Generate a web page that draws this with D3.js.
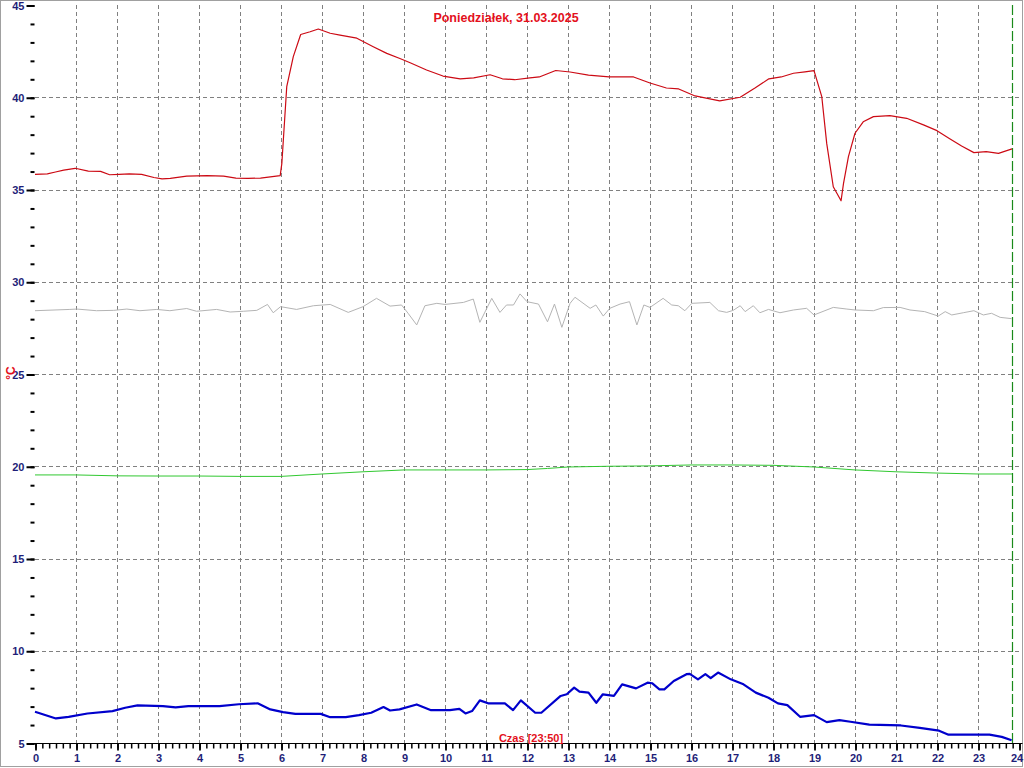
<!DOCTYPE html>
<html><head><meta charset="utf-8">
<script src="https://cdn.jsdelivr.net/npm/d3@7"></script>
<style>
html,body{margin:0;padding:0;background:#fff;}
svg{display:block;font-family:"Liberation Sans",Arial,sans-serif;}
</style></head>
<body>
<svg id="c" width="1024" height="768"></svg>
<script>
const titleText = "Poniedziałek, 31.03.2025";
const xLabelText = "Czas [23:50]";
const yLabelText = "°C";
const xTickLabels = d3.range(0, 25);
const yTickLabels = [5, 10, 15, 20, 25, 30, 35, 40, 45];
const nowHour = 23 + 50 / 60;

const redHours = [0,0.3,0.5,0.7,0.98,1.3,1.6,1.82,2.05,2.3,2.6,2.9,3.1,3.3,3.7,4.2,4.6,4.9,5.2,5.5,5.98,6.02,6.14,6.3,6.48,6.71,6.91,7.2,7.44,7.85,8.25,8.58,8.9,9.15,9.55,9.95,10.37,10.7,11.1,11.4,11.7,12.07,12.3,12.7,13.05,13.5,14.0,14.6,15.0,15.4,15.7,16.1,16.7,17.2,17.56,17.9,18.2,18.5,18.78,19.0,19.19,19.31,19.47,19.66,19.72,19.84,20.0,20.2,20.45,20.85,21.26,21.67,22.0,22.3,22.6,22.9,23.2,23.5,23.83];
const redValues = [35.82,35.85,35.95,36.05,36.15,36.0,35.98,35.8,35.82,35.85,35.82,35.65,35.58,35.6,35.72,35.75,35.72,35.62,35.6,35.62,35.75,36.4,40.57,42.2,43.4,43.55,43.7,43.47,43.37,43.2,42.74,42.38,42.1,41.87,41.48,41.15,41.0,41.05,41.22,41.0,40.95,41.05,41.1,41.45,41.37,41.2,41.1,41.1,40.77,40.5,40.45,40.07,39.8,40.0,40.5,41.0,41.1,41.3,41.38,41.44,40.03,37.5,35.15,34.39,35.33,36.78,38.05,38.67,38.95,39.0,38.86,38.5,38.19,37.77,37.36,37.0,37.05,36.96,37.2];

const grayHours = [0,0.85,1.02,1.5,1.92,2.24,2.56,2.97,3.29,3.7,3.94,4.43,4.76,5.08,5.41,5.67,5.81,5.99,6.38,6.79,7.2,7.64,8.0,8.33,8.66,8.94,9.1,9.31,9.51,9.8,10.0,10.45,10.69,10.85,11.14,11.34,11.5,11.67,11.83,12.0,12.28,12.5,12.67,12.85,13.05,13.17,13.54,13.68,13.86,14.02,14.27,14.5,14.68,14.85,15.0,15.32,15.53,15.69,15.85,16.02,16.46,16.67,16.87,17.03,17.2,17.32,17.52,17.68,17.89,18.17,18.5,18.82,19.0,19.47,19.8,20.0,20.45,20.69,21.1,21.34,21.7,22.03,22.2,22.36,22.64,22.9,23.13,23.33,23.54,23.82];
const grayValues = [28.43,28.5,28.52,28.43,28.45,28.52,28.43,28.5,28.43,28.55,28.4,28.5,28.36,28.4,28.45,28.77,28.32,28.65,28.5,28.7,28.77,28.34,28.65,29.1,28.68,28.74,28.29,27.66,28.7,28.83,28.77,28.88,29.06,27.8,29.1,28.34,28.74,28.74,29.34,28.92,28.79,27.83,28.79,27.53,28.83,29.16,28.56,28.74,28.14,28.56,28.79,28.92,27.66,28.74,28.61,29.1,28.74,28.7,28.43,28.83,28.88,28.43,28.34,28.45,28.7,28.38,28.7,28.32,28.5,28.32,28.47,28.56,28.2,28.61,28.52,28.47,28.43,28.6,28.61,28.47,28.38,28.14,28.38,28.2,28.32,28.43,28.2,28.29,28.07,28.0];

const greenHours = [0,1,2,3,4,5,6,7,8,9,10,11,12,12.5,13,14,15,16,17,18,19,20,21,22,23,23.83];
const greenValues = [19.53,19.53,19.48,19.47,19.47,19.45,19.45,19.58,19.7,19.8,19.8,19.8,19.82,19.88,19.96,20.0,20.02,20.07,20.07,20.05,19.96,19.8,19.7,19.63,19.58,19.58];

const blueHours = [0,0.51,0.82,1.28,1.89,2.2,2.5,3.12,3.43,3.74,4.5,4.97,5.43,5.74,6.05,6.35,6.97,7.2,7.58,7.9,8.2,8.5,8.66,8.89,9.31,9.66,10.12,10.35,10.5,10.66,10.85,11.05,11.46,11.66,11.85,12.2,12.35,12.82,12.97,13.15,13.28,13.5,13.69,13.85,14.12,14.32,14.66,14.94,15.05,15.23,15.35,15.58,15.89,15.97,16.17,16.35,16.48,16.66,16.97,17.28,17.58,17.89,18.12,18.35,18.66,19.0,19.31,19.62,19.89,20.35,21.12,21.58,22.05,22.28,23.28,23.58,23.82];
const blueValues = [6.69,6.33,6.42,6.6,6.73,6.91,7.04,7.0,6.93,7.0,7.0,7.1,7.15,6.82,6.67,6.58,6.58,6.4,6.4,6.51,6.64,6.95,6.76,6.82,7.09,6.78,6.78,6.85,6.6,6.73,7.31,7.15,7.15,6.78,7.31,6.64,6.64,7.55,7.64,8.0,7.78,7.73,7.18,7.64,7.55,8.18,7.96,8.27,8.24,7.91,7.91,8.36,8.73,8.75,8.45,8.73,8.51,8.82,8.45,8.18,7.73,7.45,7.15,7.05,6.42,6.51,6.13,6.24,6.15,6.0,5.95,5.82,5.67,5.45,5.45,5.33,5.15];

const svg = d3.select("#c");
const x = d3.scaleLinear().domain([0, 24]).range([35, 1019]);
const y = d3.scaleLinear().domain([5, 45]).range([743, 5]);
const navy = "#1e1e78";

// outer frame
svg.append("rect").attr("x", 0.5).attr("y", 0.5).attr("width", 1022).attr("height", 766)
  .attr("fill", "none").attr("stroke", "#a0a0a0").attr("stroke-width", 1);

// grid
const grid = svg.append("g").attr("stroke", "#808080").attr("stroke-width", 1).attr("stroke-dasharray", "4,3");
grid.selectAll("line.v").data(xTickLabels.filter(d => d > 0 && d < 24)).join("line")
  .attr("x1", d => Math.round(x(d)) + 0.5).attr("x2", d => Math.round(x(d)) + 0.5)
  .attr("y1", y(45)).attr("y2", y(5));
grid.selectAll("line.h").data(yTickLabels.filter(d => d > 5 && d < 45)).join("line")
  .attr("y1", d => Math.round(y(d)) + 0.5).attr("y2", d => Math.round(y(d)) + 0.5)
  .attr("x1", x(0)).attr("x2", x(24));

// now line
svg.append("line").attr("x1", Math.round(x(nowHour)) + 0.5).attr("x2", Math.round(x(nowHour)) + 0.5)
  .attr("y1", y(45)).attr("y2", y(5)).attr("stroke", "#1a8a1a").attr("stroke-width", 1.2)
  .attr("stroke-dasharray", "10,3");

// y axis
const yMinor = svg.append("g").attr("transform", "translate(34.5,0.5)")
  .call(d3.axisLeft(y).tickValues(d3.range(5, 46, 1)).tickSize(4).tickFormat(""));
yMinor.select(".domain").remove();
const yAx = svg.append("g").attr("transform", "translate(34.5,0.5)")
  .call(d3.axisLeft(y).tickValues(yTickLabels).tickSize(8).tickPadding(2).tickFormat(d3.format("d")));
yAx.select(".domain").remove();
svg.selectAll("g.tick line").attr("stroke", "#000").attr("stroke-width", 2);

// x axis
const xMinor = svg.append("g").attr("transform", "translate(0.5,743.5)")
  .call(d3.axisBottom(x).tickValues(d3.range(0, 24 * 6 + 1).map(i => i / 6)).tickSize(5).tickSizeOuter(0).tickFormat(""));
xMinor.select(".domain").remove();
xMinor.selectAll("g.tick line").attr("stroke", "#000").attr("stroke-width", 1.5);
const xAx = svg.append("g").attr("transform", "translate(0.5,743.5)")
  .call(d3.axisBottom(x).tickValues(xTickLabels).tickSize(7).tickSizeOuter(0).tickPadding(4).tickFormat(d3.format("d")));
xAx.select(".domain").attr("stroke", "#000").attr("d", "M" + (x(0) - 2) + ",0H" + (x(24) + 3));
xAx.selectAll("g.tick line").attr("stroke", "#000").attr("stroke-width", 1.8);
xAx.selectAll("g.tick text").filter(d => d === 24).attr("dx", -3);
svg.selectAll("g.tick text").attr("fill", navy).attr("font-size", 11).attr("font-weight", "bold")
  .attr("font-family", "'Liberation Sans',Arial,sans-serif");

// series
const line = d3.line().x(d => x(d[0])).y(d => y(d[1]));
function drawSeries(hours, values, color, width) {
  svg.append("path").datum(d3.zip(hours, values)).attr("d", line)
    .attr("fill", "none").attr("stroke", color).attr("stroke-width", width).attr("stroke-linejoin", "round");
}
drawSeries(grayHours, grayValues, "#b4b4b4", 1);
drawSeries(greenHours, greenValues, "#30c830", 1);
drawSeries(redHours, redValues, "#cc0a14", 1.2);
drawSeries(blueHours, blueValues, "#0000cc", 2.2);

// texts
svg.append("text").attr("x", 506).attr("y", 22).attr("text-anchor", "middle")
  .attr("fill", "#e3101c").attr("font-size", 12.5).attr("font-weight", "bold").text(titleText);
svg.append("text").attr("x", 531).attr("y", 742).attr("text-anchor", "middle")
  .attr("fill", "#e3101c").attr("font-size", 11).attr("font-weight", "bold").text(xLabelText);
svg.append("text").attr("transform", "translate(15,373) rotate(-90)").attr("text-anchor", "middle")
  .attr("fill", "#e3101c").attr("font-size", 12).attr("font-weight", "bold").text(yLabelText);
</script>
</body></html>
